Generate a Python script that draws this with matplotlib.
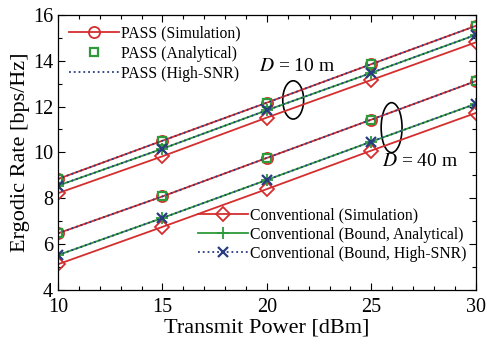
import matplotlib
matplotlib.use("Agg")
import matplotlib.pyplot as plt
from matplotlib.patches import Ellipse
from matplotlib.lines import Line2D
from matplotlib.ticker import MultipleLocator

plt.rcParams['font.family'] = ['Liberation Serif', 'DejaVu Serif']
plt.rcParams['mathtext.fontset'] = 'stix'

# Transmit power [dBm]
power = [10, 15, 20, 25, 30]

# D = 10 m
pass_d10 = [8.84, 10.51, 12.17, 13.85, 15.52]
conv_sim_d10 = [8.22, 9.83, 11.52, 13.16, 14.80]
conv_bound_d10 = [8.55, 10.16, 11.84, 13.47, 15.13]

# D = 40 m
pass_d40 = [6.47, 8.08, 9.76, 11.43, 13.11]
conv_sim_d40 = [5.12, 6.75, 8.40, 10.08, 11.72]
conv_bound_d40 = [5.52, 7.14, 8.80, 10.47, 12.12]

RED = '#D42E2E'
GREEN = '#2E9A3A'
BLUE = '#283C80'
lw = 1.3

fig = plt.figure(figsize=(4.87, 3.46), dpi=100)
ax = fig.add_axes([0.119, 0.162, 0.858, 0.795])

for pas, cs, cb in [(pass_d10, conv_sim_d10, conv_bound_d10),
                    (pass_d40, conv_sim_d40, conv_bound_d40)]:
    ax.plot(power, pas, color=RED, lw=lw, marker='o', ms=8, mfc='none', mew=1.3)
    ax.plot(power, pas, color=GREEN, ls='none', marker='s', ms=6, mfc='none', mew=1.6)
    ax.plot(power, pas, color=BLUE, lw=lw, ls=':')
    ax.plot(power, cs, color=RED, lw=lw, marker='D', ms=7.5, mfc='none', mew=1.3)
    ax.plot(power, cb, color=GREEN, lw=lw, marker='+', ms=9, mew=1.3)
    ax.plot(power, cb, color=BLUE, lw=lw, ls=':', marker='x', ms=6.5, mew=1.6)

ax.set_xlim(10, 30)
ax.set_ylim(4, 16)
ax.xaxis.set_major_locator(MultipleLocator(5))
ax.xaxis.set_minor_locator(MultipleLocator(1))
ax.yaxis.set_major_locator(MultipleLocator(2))
ax.yaxis.set_minor_locator(MultipleLocator(1))
ax.tick_params(which='both', direction='in', top=True, right=True, labelsize=14.5)
ax.tick_params(which='major', length=5, width=0.8)
ax.tick_params(which='minor', length=3, width=0.8)
ax.tick_params(axis='x', which='major', pad=6)
for s in ax.spines.values():
    s.set_linewidth(0.9)
ax.set_xlabel('Transmit Power [dBm]', fontsize=16, labelpad=1)
ax.set_ylabel('Ergodic Rate [bps/Hz]', fontsize=16, labelpad=2)

# annotations
ax.text(19.6, 13.73, r'$D$ = 10 m', fontsize=14, va='center', ha='left')
ax.add_patch(Ellipse((21.26, 12.29), 1.0, 1.67, fill=False, color='black', lw=1.2))
ax.add_patch(Ellipse((25.97, 11.08), 1.0, 2.18, fill=False, color='black', lw=1.2))
ax.text(25.5, 9.6, r'$D$ = 40 m', fontsize=14, va='center', ha='left')

h1 = [Line2D([], [], color=RED, lw=lw, marker='o', ms=8, mfc='none', mew=1.3),
      Line2D([], [], color=GREEN, ls='none', marker='s', ms=6, mfc='none', mew=1.6),
      Line2D([], [], color=BLUE, lw=lw, ls=':')]
l1 = ax.legend(h1, ['PASS (Simulation)', 'PASS (Analytical)', 'PASS (High-SNR)'],
               loc='upper left', bbox_to_anchor=(0.0, 1.0), frameon=False,
               fontsize=11.3, handlelength=3.2, handletextpad=0.1,
               labelspacing=0.25, borderpad=0.5, borderaxespad=0.2)
ax.add_artist(l1)

h2 = [Line2D([], [], color=RED, lw=lw, marker='D', ms=7.5, mfc='none', mew=1.3),
      Line2D([], [], color=GREEN, lw=lw, marker='+', ms=9, mew=1.3),
      Line2D([], [], color=BLUE, lw=lw, ls=':', marker='x', ms=6.5, mew=1.6)]
ax.legend(h2, ['Conventional (Simulation)', 'Conventional (Bound, Analytical)',
               'Conventional (Bound, High-SNR)'],
          loc='upper left', bbox_to_anchor=(0.32, 0.322), frameon=False,
          fontsize=11.3, handlelength=3.2, handletextpad=0.1,
          labelspacing=0.2, borderpad=0.4, borderaxespad=0.0)

fig.savefig('out.png', dpi=100)
